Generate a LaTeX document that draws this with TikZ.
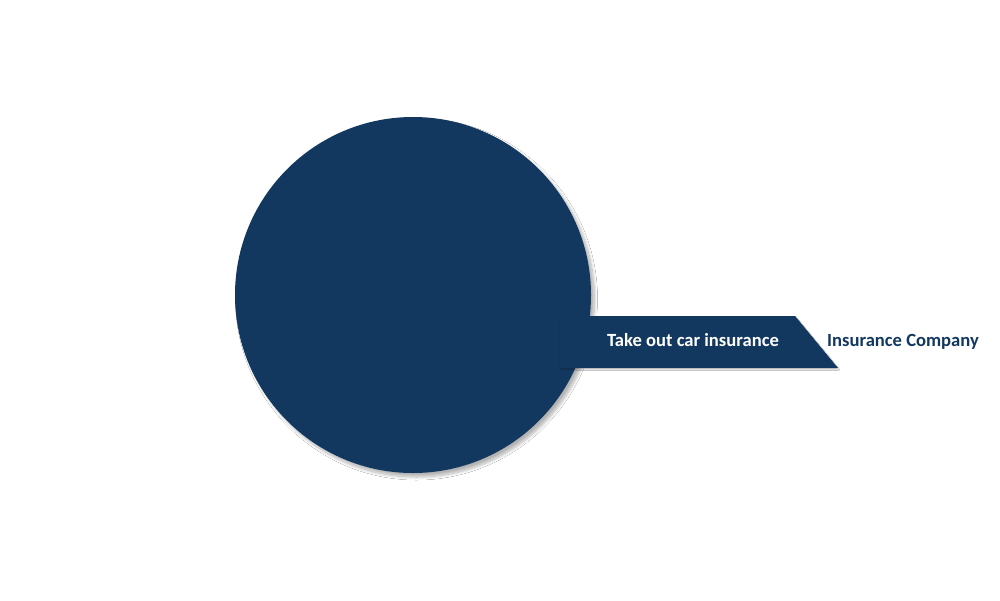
\documentclass[tikz,border=0pt]{standalone}
\usepackage{fontspec}
\setmainfont{Carlito}
\usetikzlibrary{shadows.blur}
\definecolor{navy}{RGB}{19,56,96}
\begin{document}
\begin{tikzpicture}[x=1pt,y=-1pt,
  shadowed/.style={blur shadow={shadow xshift=3.5pt,shadow yshift=-4pt,shadow blur steps=10,shadow blur radius=3pt,shadow opacity=30}},
  lbl/.style={font=\bfseries\fontsize{18.6}{21}\selectfont, inner sep=0pt, anchor=base}]
\useasboundingbox[fill=white] (0,0) rectangle (1000,600);
\node[circle, fill=navy, minimum size=356pt, inner sep=0pt, shadowed] (hub) at (413,295) {};
\fill[navy, blur shadow={shadow xshift=0.5pt,shadow yshift=-1.5pt,shadow blur steps=4,shadow blur radius=1pt,shadow opacity=20}]
  (560,316) -- (795,316) -- (838,368) -- (560,368) -- cycle;
\node[lbl, text=white] (act) at (693,346.5) {Take out car insurance};
\node[lbl, text=navy] (org) at (903,346.5) {Insurance Company};
\end{tikzpicture}
\end{document}
